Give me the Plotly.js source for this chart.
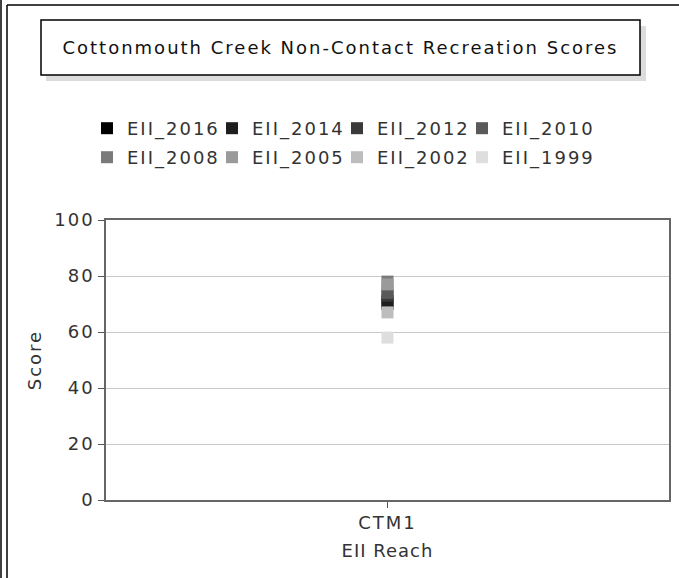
<!DOCTYPE html>
<html>
<head>
<meta charset="utf-8">
<script src="https://cdn.plot.ly/plotly-3.0.1.min.js"></script>
<style>
html,body{margin:0;padding:0;background:#fff;}
text{letter-spacing:2px;}
.xtitle{letter-spacing:1px !important;}
g.legend g.scrollbox, g.legend2 g.scrollbox, g.legend, g.legend2{clip-path:none !important;}
</style>
</head>
<body>
<div id="chart" style="width:679px;height:578px;"></div>
<script>
const categories = ["CTM1"];
const seriesNames = ["EII_2016","EII_2014","EII_2012","EII_2010","EII_2008","EII_2005","EII_2002","EII_1999"];
const seriesColors = ["#000000","#1e1e1e","#3a3a3a","#5a5a5a","#7a7a7a","#9a9a9a","#bdbdbd","#dedede"];
const EII_2016 = [70];
const EII_2014 = [71];
const EII_2012 = [73];
const EII_2010 = [74];
const EII_2008 = [78];
const EII_2005 = [77];
const EII_2002 = [67];
const EII_1999 = [58];
const seriesValues = [EII_2016,EII_2014,EII_2012,EII_2010,EII_2008,EII_2005,EII_2002,EII_1999];
const yTicks = [0,20,40,60,80,100];

const W = 679, H = 578;
const L = 106, R = 10, T = 220, B = 78;
const pw = W - L - R, ph = H - T - B;
const px = x => (x - L) / pw;
const py = y => (H - B - y) / ph;

const font = {family: "DejaVu Sans", size: 18, color: "#333"};

const traces = seriesNames.map((n, i) => ({
  type: "scatter", mode: "markers", name: n,
  x: categories, y: seriesValues[i],
  legend: i < 4 ? "legend" : "legend2",
  marker: {symbol: "square", size: 12, color: seriesColors[i], line: {width: 0}},
  hoverinfo: "x+y+name"
}));

const shapes = [
  {type:"line", xref:"paper", yref:"paper", x0:px(1), x1:px(1), y0:py(0), y1:py(H), line:{color:"#000", width:1.5}},
  {type:"line", xref:"paper", yref:"paper", x0:px(7), x1:px(7), y0:py(5), y1:py(H), line:{color:"#000", width:1.5}},
  {type:"line", xref:"paper", yref:"paper", x0:px(7), x1:px(W), y0:py(5), y1:py(5), line:{color:"#000", width:1.5}},
  {type:"rect", xref:"paper", yref:"paper", x0:px(46), x1:px(646), y0:py(26), y1:py(81), fillcolor:"#dcdcdc", line:{width:0}},
  {type:"rect", xref:"paper", yref:"paper", x0:px(41), x1:px(640), y0:py(20), y1:py(75), fillcolor:"#fff", line:{color:"#000", width:1.5}}
];

const legendCommon = {orientation: "h", x: px(87), xanchor: "left", yanchor: "top",
  entrywidth: 80, entrywidthmode: "pixels", font: font, itemwidth: 30, bgcolor: "rgba(0,0,0,0)"};

const layout = {
  width: W, height: H,
  margin: {l: L, r: R, t: T, b: B, pad: 0},
  paper_bgcolor: "#fff", plot_bgcolor: "#fff",
  font: font,
  title: {text: "Cottonmouth Creek Non-Contact Recreation Scores", font: {family:"DejaVu Sans", size: 18, color:"#111"},
          xref: "container", yref: "container", x: (41+640)/2/W, xanchor: "center", y: 1 - 48/H, yanchor: "middle"},
  showlegend: true,
  legend: Object.assign({}, legendCommon, {y: py(110)}),
  legend2: Object.assign({}, legendCommon, {y: py(139)}),
  xaxis: {type: "category", categoryarray: categories, showgrid: false, zeroline: false,
          ticks: "outside", ticklen: 6, tickcolor: "#555", showline: true, linecolor: "#666", linewidth: 1.5, mirror: true,
          tickfont: font, title: {text: "EII Reach", font: font, standoff: 12}, automargin: false},
  yaxis: {range: [0, 100], tickvals: yTicks, showgrid: true, gridcolor: "#c8c8c8", gridwidth: 1, zeroline: false,
          ticks: "outside", ticklen: 6, tickcolor: "#555", showline: true, linecolor: "#666", linewidth: 1.5, mirror: true,
          tickfont: font, title: {text: "Score", font: font, standoff: 8}, automargin: false},
  shapes: shapes
};

Plotly.newPlot("chart", traces, layout, {displayModeBar: false, responsive: false});
</script>
</body>
</html>
